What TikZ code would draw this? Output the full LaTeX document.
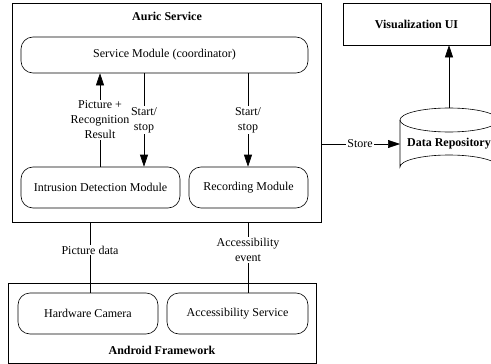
\documentclass[tikz,border=0pt]{standalone}
\usepackage{fontspec}
\setmainfont{Liberation Serif}
\usetikzlibrary{arrows.meta}
\begin{document}
\begin{tikzpicture}[x=1pt,y=-1pt,
  every node/.style={font=\fontsize{12}{15}\selectfont, inner sep=0pt},
  frame/.style={draw, line width=0.6pt, rectangle},
  module/.style={draw, line width=0.6pt, rectangle, rounded corners=12pt},
  title/.style={font=\fontsize{12}{15}\selectfont\bfseries},
  tag/.style={fill=white, align=center, inner sep=1pt},
  link/.style={line width=0.6pt},
  arr/.style={line width=0.6pt, -{Triangle[length=12pt,width=8pt]}}]
\useasboundingbox (0,0) rectangle (491,364);

% Auric Service container
\node[frame, minimum width=309pt, minimum height=219pt] (auric) at (166.5,112.5) {};
\node[title] (auricT) at (167,16) {Auric Service};
\node[module, minimum width=287pt, minimum height=36pt] (svc) at (164.5,55) {Service Module (coordinator)};
\node[module, minimum width=159pt, minimum height=41pt] (ids) at (100.5,187.5) {Intrusion Detection Module};
\node[module, minimum width=119pt, minimum height=41pt] (rec) at (248.5,187.5) {Recording Module};

% Android Framework container
\node[frame, minimum width=308pt, minimum height=80pt] (android) at (162,323) {};
\node[title] (androidT) at (162,350) {Android Framework};
\node[module, minimum width=140pt, minimum height=41pt] (cam) at (88,313.5) {Hardware Camera};
\node[module, minimum width=141pt, minimum height=41pt] (acc) at (237.5,313.5) {Accessibility Service};

% Visualization UI
\node[frame, minimum width=147pt, minimum height=42pt] (vis) at (416.5,24) {\bfseries Visualization UI};

% Data Repository cylinder
\filldraw[fill=white, line width=0.6pt] (400,120) -- (400,167)
  arc[start angle=180, end angle=360, x radius=49, y radius=12] -- (498,120);
\draw[line width=0.6pt] (449,120) ellipse [x radius=49, y radius=12];
\node[title] (repo) at (449,144) {Data Repository};
\coordinate (repotop) at (449,108);
\coordinate (repoleft) at (400,144);

% vertical guides for the connectors
\coordinate (xup) at (100,0);
\coordinate (xdn) at (144,0);
\coordinate (xrec) at (248,0);
\coordinate (xcam) at (90,0);

% connectors inside Auric Service
\draw[arr] (ids.north -| xup) -- (svc.south -| xup);
\node[tag] (lblpic) at (100,120) {Picture +\\Recognition\\Result};
\draw[arr] (svc.south -| xdn) -- (ids.north -| xdn);
\node[tag] (lblss1) at (144,120) {Start/\\stop};
\draw[arr] (svc.south -| xrec) -- (rec.north -| xrec);
\node[tag] (lblss2) at (248,120) {Start/\\stop};

% connectors to the Android Framework
\draw[link] (auric.south -| xcam) -- (cam.north -| xcam);
\node[tag] (lbldata) at (90,250) {Picture data};
\draw[link] (auric.south -| xrec) -- (acc.north -| xrec);
\node[tag] (lblacc) at (248,250) {Accessibility\\event};

% storage and visualization
\draw[arr] (auric.east |- repoleft) -- (repoleft);
\node[tag] (lblstore) at (360,144) {Store};
\draw[arr] (repotop) -- (vis.south -| repotop);
\end{tikzpicture}
\end{document}
